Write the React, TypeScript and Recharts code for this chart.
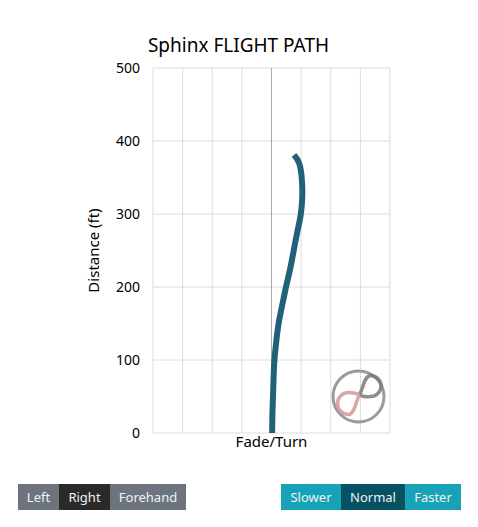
import React from 'react';
import { LineChart, Line, XAxis, YAxis, CartesianGrid, ReferenceLine } from 'recharts';

// flight path: distance (ft) vs fade/turn
const distance = [0, 25, 50, 75, 100, 125, 150, 175, 200, 225, 250, 275, 300, 325, 350, 370, 381];
const fadeTurn = [0.02, 0.03, 0.05, 0.07, 0.1, 0.16, 0.24, 0.36, 0.49, 0.63, 0.75, 0.87, 0.99, 1.04, 1.02, 0.93, 0.76];

const xTicks = [-4, -3, -2, -1, 0, 1, 2, 3, 4];
const yTicks = [0, 100, 200, 300, 400, 500];

const throwButtons = ['Left', 'Right', 'Forehand'];
const speedButtons = ['Slower', 'Normal', 'Faster'];

const data = distance.map((d, i) => ({ x: fadeTurn[i], y: d }));

const FONT = '"Noto Sans", "Open Sans", sans-serif';

// x ticks are only there for the grid, draw no label
const NoTick = () => <g />;

const Btn: React.FC<{ label: string; left: number; width: number; bg: string }> = ({ label, left, width, bg }) => (
  <div
    style={{
      position: 'absolute',
      top: 476,
      left,
      width,
      height: 26,
      lineHeight: '26px',
      background: bg,
      color: '#f2f2f2',
      fontSize: 13,
      textAlign: 'center',
    }}
  >
    {label}
  </div>
);

// watermark in the corner of the plot
const Logo: React.FC = () => (
  <svg
    width={64}
    height={60}
    viewBox="0 0 64 60"
    style={{ position: 'absolute', left: 320, top: 359, filter: 'blur(0.7px)' }}
  >
    <circle cx={30.5} cy={29.5} r={25.5} fill="none" stroke="#8a8a8a" strokeWidth={3} opacity={0.85} />
    <path
      d="M 31.5 28 C 35 22, 36 9, 42.5 8.5 A 10.5 10.5 0 0 1 53 19 A 10.5 10.5 0 0 1 42.5 29.5 C 38 30, 34 29.5, 31.5 28"
      fill="none"
      stroke="#7a7a7a"
      strokeWidth={3.5}
      opacity={0.85}
    />
    <path
      d="M 31.5 28 C 28 33, 27 47, 20.5 47.5 A 11 11 0 0 1 9.5 36.5 A 11 11 0 0 1 20.5 25.5 C 25 25.5, 29 26.5, 31.5 28"
      fill="none"
      stroke="#d69c9e"
      strokeWidth={3.5}
      opacity={0.9}
    />
  </svg>
);

const App: React.FC = () => {
  return (
    <div style={{ position: 'relative', width: 470, height: 519, fontFamily: FONT }}>
      <div
        style={{
          position: 'absolute',
          top: 25,
          left: 0,
          width: 461,
          textAlign: 'center',
          fontSize: 19,
          lineHeight: '24px',
          color: '#000',
        }}
      >
        Sphinx FLIGHT PATH
      </div>
      <div style={{ position: 'absolute', top: 0, left: 0 }}>
        <LineChart width={462} height={460} data={data} margin={{ top: 60, right: 80, bottom: 17, left: 27 }}>
          <CartesianGrid stroke="#dcdcdc" />
          <XAxis
            type="number"
            dataKey="x"
            domain={[-4, 4]}
            ticks={xTicks}
            tick={NoTick}
            tickLine={false}
            axisLine={false}
            height={18}
            label={{ value: 'Fade/Turn', position: 'center', fill: '#000', fontSize: 15 }}
          />
          <YAxis
            type="number"
            domain={[0, 500]}
            ticks={yTicks}
            width={118}
            tickLine={false}
            axisLine={false}
            tickMargin={7}
            tick={{ fill: '#000', fontSize: 14 }}
            label={{ value: 'Distance (ft)', angle: -90, position: 'center', fill: '#000', fontSize: 15 }}
          />
          <ReferenceLine x={0} stroke="#a8a8a8" />
          <Line
            type="natural"
            dataKey="y"
            stroke="#22617a"
            strokeWidth={6}
            dot={false}
            isAnimationActive={false}
          />
        </LineChart>
      </div>
      <Logo />
      <Btn label={throwButtons[0]} left={10} width={41} bg="#6c757d" />
      <Btn label={throwButtons[1]} left={51} width={51} bg="#2a2a2a" />
      <Btn label={throwButtons[2]} left={102} width={76} bg="#6c757d" />
      <Btn label={speedButtons[0]} left={273} width={60} bg="#17a2b8" />
      <Btn label={speedButtons[1]} left={333} width={64} bg="#045262" />
      <Btn label={speedButtons[2]} left={397} width={56} bg="#17a2b8" />
      <div style={{ position: 'absolute', left: 469, top: -8, width: 1, height: 527, background: '#e6e6e6' }} />
    </div>
  );
};

export default App;
